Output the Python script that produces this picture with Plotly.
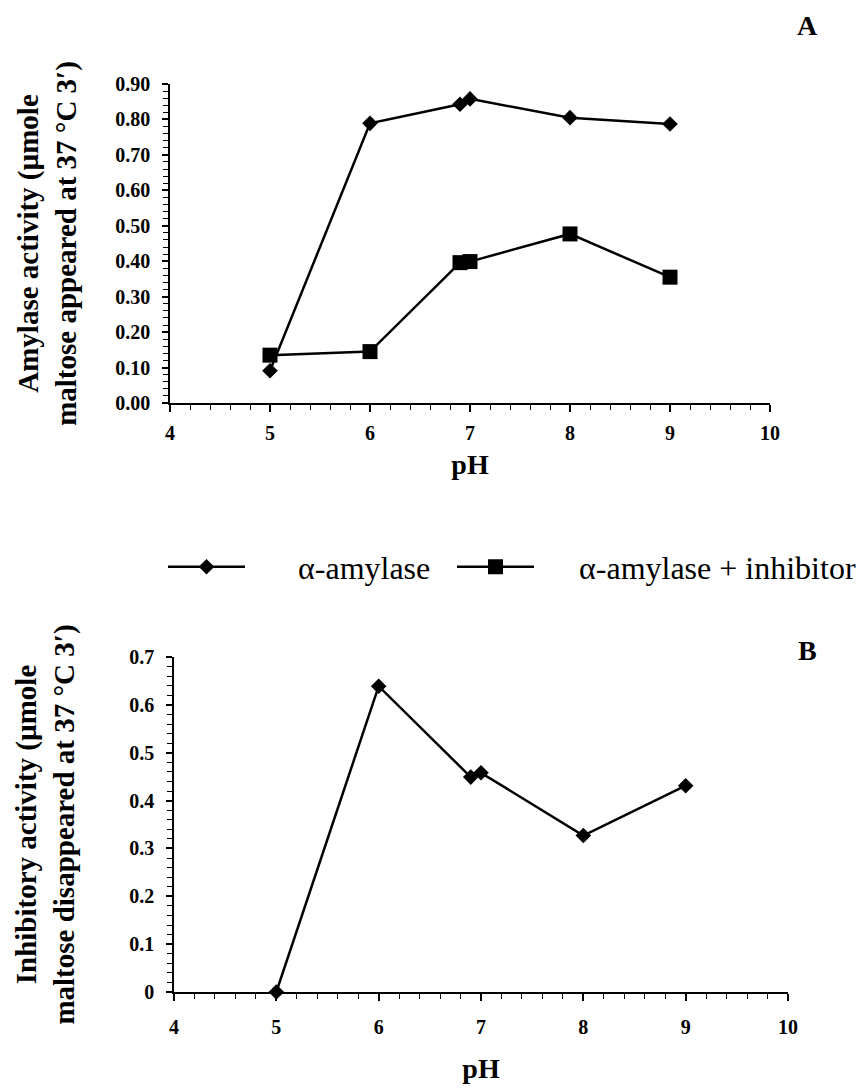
import plotly.graph_objects as go

# ---- data ----
ph = [5, 6, 6.9, 7, 8, 9]
amylase = [0.091, 0.789, 0.843, 0.858, 0.805, 0.787]
amylase_inhibitor = [0.135, 0.145, 0.396, 0.399, 0.477, 0.355]
inhibitory = [0.0, 0.639, 0.449, 0.458, 0.327, 0.431]

x_ticks = [4, 5, 6, 7, 8, 9, 10]
top_y_ticks = [0.0, 0.1, 0.2, 0.3, 0.4, 0.5, 0.6, 0.7, 0.8, 0.9]
bot_y_ticks = [0.0, 0.1, 0.2, 0.3, 0.4, 0.5, 0.6, 0.7]

label_amylase = "\u00a0" * 6 + "\u03b1-amylase"
label_inhib = "\u00a0" * 5 + "\u03b1-amylase + inhibitor"

FONT = "Liberation Serif"
W, H = 866, 1089

fig = go.Figure()

fig.add_trace(go.Scatter(
    x=ph, y=amylase, mode="lines+markers", name=label_amylase,
    line=dict(color="black", width=2.5),
    marker=dict(symbol="diamond", size=12, color="black"),
    legendwidth=197,
    xaxis="x", yaxis="y", cliponaxis=False))
fig.add_trace(go.Scatter(
    x=ph, y=amylase_inhibitor, mode="lines+markers", name=label_inhib,
    line=dict(color="black", width=2.5),
    marker=dict(symbol="square", size=15, color="black"),
    xaxis="x", yaxis="y", cliponaxis=False))
fig.add_trace(go.Scatter(
    x=ph, y=inhibitory, mode="lines+markers", showlegend=False,
    line=dict(color="black", width=2.5),
    marker=dict(symbol="diamond", size=12, color="black"),
    xaxis="x2", yaxis="y2", cliponaxis=False))

tickfont = dict(family=FONT, size=20, color="black", weight="bold")
titlefont = dict(family=FONT, size=29, color="black", weight="bold")


def xaxis(domain, anchor, standoff, title_standoff):
    return dict(
        domain=domain, anchor=anchor, range=[4, 10], tickvals=x_ticks,
        showline=True, linecolor="black", linewidth=1.5, mirror=False,
        showgrid=False, zeroline=False,
        ticks="outside", ticklen=7, tickwidth=1.5, tickcolor="black",
        minor=dict(ticks="outside", ticklen=5, dtick=0.2, tickwidth=1,
                   tickcolor="black", showgrid=False),
        tickfont=tickfont, ticklabelstandoff=standoff,
        title=dict(text="pH", font=dict(family=FONT, size=28, color="black",
                                         weight="bold"),
                   standoff=title_standoff),
        automargin=False)


def yaxis(domain, anchor, rng, vals, fmt, title, standoff):
    return dict(
        domain=domain, anchor=anchor, range=rng, tickvals=vals,
        tickformat=fmt,
        showline=True, linecolor="black", linewidth=1.5,
        showgrid=False, zeroline=False,
        ticks="outside", ticklen=6, tickwidth=1.5, tickcolor="black",
        minor=dict(ticks="outside", ticklen=5, dtick=0.02, tickwidth=1,
                   tickcolor="black", showgrid=False),
        tickfont=tickfont, ticklabelstandoff=8,
        title=dict(text=title, font=titlefont, standoff=standoff),
        automargin=False)


fig.update_layout(
    width=W, height=H,
    margin=dict(l=0, r=0, t=0, b=0),
    paper_bgcolor="white", plot_bgcolor="white",
    font=dict(family=FONT, color="black"),
    xaxis=xaxis([170 / W, 770 / W], "y", 4, 12),
    yaxis=yaxis([(H - 403) / H, (H - 84) / H], "x", [0, 0.9], top_y_ticks, ".2f",
                "Amylase activity (\u00b5mole<br>maltose appeared at 37 \u00b0C 3\u2032)", 30),
    xaxis2=xaxis([174 / W, 788 / W], "y2", 9, 22),
    yaxis2=yaxis([(H - 992) / H, (H - 657) / H], "x2", [0, 0.7], bot_y_ticks, "",
                 "Inhibitory activity (\u00b5mole<br>maltose disappeared at 37 \u00b0C 3\u2032)", 46),
    showlegend=True,
    legend=dict(
        orientation="h", x=163 / W, xanchor="left", y=(H - 567) / H, yanchor="middle",
        font=dict(family=FONT, size=32, color="black"),
        itemwidth=77,
        bgcolor="rgba(0,0,0,0)", borderwidth=0, tracegroupgap=0),
    annotations=[
        dict(text="A", x=807 / W, y=(H - 26) / H, xref="paper", yref="paper",
             xanchor="center", yanchor="middle", showarrow=False,
             font=dict(family=FONT, size=28, color="black", weight="bold")),
        dict(text="B", x=807 / W, y=(H - 650) / H, xref="paper", yref="paper",
             xanchor="center", yanchor="middle", showarrow=False,
             font=dict(family=FONT, size=28, color="black", weight="bold")),
    ],
)

fig.write_html("out.html")
